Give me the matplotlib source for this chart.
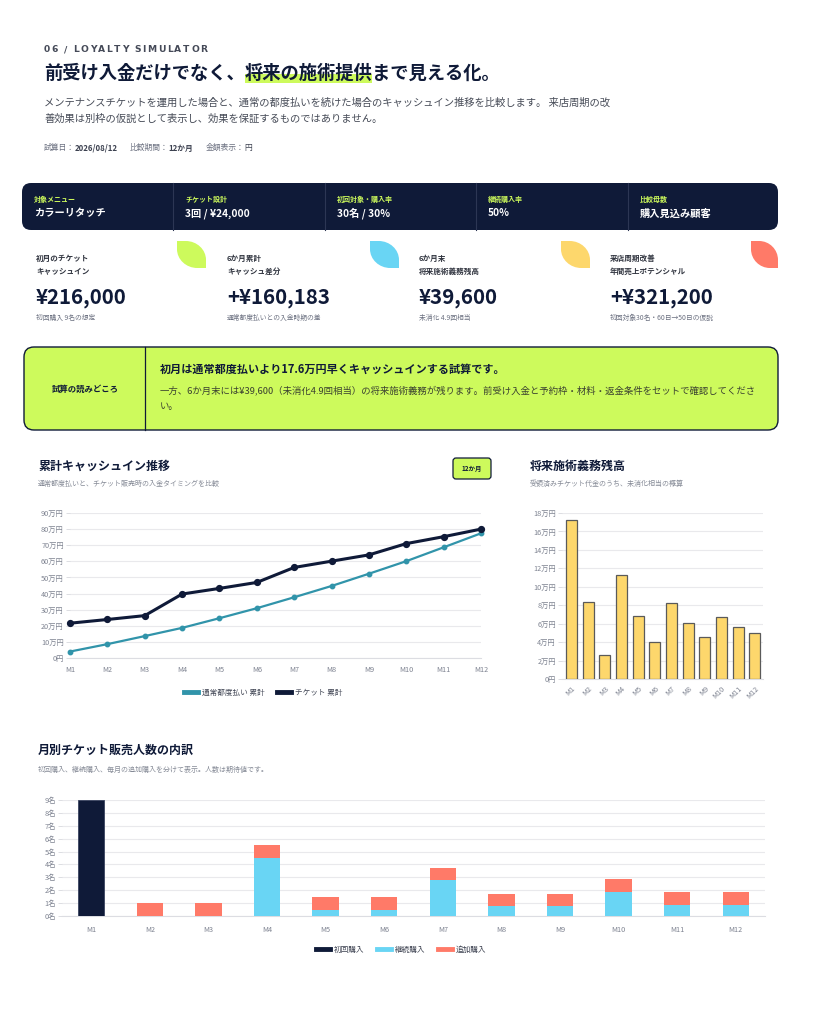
import matplotlib
matplotlib.use("Agg")
import matplotlib.pyplot as plt
from matplotlib.patches import FancyBboxPatch, PathPatch, Rectangle
from matplotlib.path import Path
from matplotlib.lines import Line2D
import numpy as np

plt.rcParams['font.family'] = ['Noto Sans CJK JP', 'DejaVu Sans']

# ---------------- data ----------------
months = ["M1", "M2", "M3", "M4", "M5", "M6", "M7", "M8", "M9", "M10", "M11", "M12"]
regular_cum = [4.0, 8.6, 13.6, 18.7, 24.7, 30.9, 37.7, 44.7, 52.3, 60.1, 68.7, 77.4]   # 万円
ticket_cum = [21.6, 23.9, 26.3, 39.7, 43.2, 46.9, 56.2, 60.1, 64.0, 71.0, 75.3, 80.0]  # 万円
liability = [17.2, 8.33, 2.57, 11.23, 6.81, 3.96, 8.26, 6.05, 4.56, 6.70, 5.65, 4.96]   # 万円
first_buy = [9, 0, 0, 0, 0, 0, 0, 0, 0, 0, 0, 0]
cont_buy = [0, 0, 0, 4.5, 0.5, 0.5, 2.8, 0.75, 0.75, 1.85, 0.85, 0.85]
add_buy = [0, 1.0, 1.0, 1.0, 0.97, 0.97, 0.95, 0.98, 0.98, 1.0, 1.0, 1.0]

line_yticks = [0, 10, 20, 30, 40, 50, 60, 70, 80, 90]
line_yticklabels = ["0円"] + [f"{v}万円" for v in line_yticks[1:]]
bar_yticks = [0, 2, 4, 6, 8, 10, 12, 14, 16, 18]
bar_yticklabels = ["0円"] + [f"{v}万円" for v in bar_yticks[1:]]
stack_yticks = list(range(10))
stack_yticklabels = [f"{v}名" for v in stack_yticks]

strip_labels = ["対象メニュー", "チケット設計", "初回対象・購入率", "継続購入率", "比較母数"]
strip_values = ["カラーリタッチ", "3回 / ¥24,000", "30名 / 30%", "50%", "購入見込み顧客"]

card_labels = [("初月のチケット", "キャッシュイン"), ("6か月累計", "キャッシュ差分"),
               ("6か月末", "将来施術義務残高"), ("来店周期改善", "年間売上ポテンシャル")]
card_values = ["¥216,000", "+¥160,183", "¥39,600", "+¥321,200"]
card_notes = ["初回購入 9名の想定", "通常都度払いとの入金時期の差", "未消化 4.9回相当", "初回対象30名・60日→50日の仮説"]

# ---------------- colors ----------------
NAVY = "#0f1a38"
LIME = "#cdfa5c"
SKY = "#69d5f4"
YELLOW = "#fdd76c"
SALMON = "#ff7a68"
TEAL = "#3194aa"
GRID = "#e9e9ec"
TICKC = "#7d8290"

W, H = 820, 1024
fig = plt.figure(figsize=(W / 100, H / 100), dpi=100)
fig.patch.set_facecolor("white")
bg = fig.add_axes([0, 0, 1, 1])
bg.set_xlim(0, W)
bg.set_ylim(H, 0)
bg.axis("off")
renderer = fig.canvas.get_renderer()


def pt(px):
    return px / (100 / 72)


def width_of(t):
    return t.get_window_extent(renderer).width


# ---------------- header ----------------
x = 44
for ch in "06 / LOYALTY SIMULATOR":
    if ch == " ":
        x += 4.0
        continue
    t = bg.text(x, 50, ch, fontsize=pt(9.2), color="#454a58", va="center", ha="left",
                family=["DejaVu Sans"], fontweight="bold")
    x += width_of(t) + 1.6

title_pre = "前受け入金だけでなく、"
title_hl = "将来の施術提供"
title_post = "まで見える化。"
tfs = pt(18.3)
t1 = bg.text(44, 73, title_pre, fontsize=tfs, fontweight="bold", color=NAVY, va="center", zorder=3)
w1 = width_of(t1)
t2 = bg.text(44 + w1, 73, title_hl, fontsize=tfs, fontweight="bold", color=NAVY, va="center", zorder=3)
w2 = width_of(t2)
bg.text(44 + w1 + w2, 73, title_post, fontsize=tfs, fontweight="bold", color=NAVY, va="center", zorder=3)
bg.add_patch(Rectangle((44 + w1, 74), w2, 9, color=LIME, zorder=2, lw=0))

desc_lines = ["メンテナンスチケットを運用した場合と、通常の都度払いを続けた場合のキャッシュイン推移を比較します。 来店周期の改",
              "善効果は別枠の仮説として表示し、効果を保証するものではありません。"]
bg.text(44, 103, desc_lines[0], fontsize=pt(10.3), color="#464b57", va="center")
bg.text(44, 119, desc_lines[1], fontsize=pt(10.3), color="#464b57", va="center")

meta = [("試算日：", "2026/08/12"), ("比較期間：", "12か月"), ("金額表示：", "円")]
mx = 44
for k, v in meta:
    a = bg.text(mx, 148, k, fontsize=pt(7.8), color="#6b7080", va="center")
    mx += width_of(a)
    b = bg.text(mx, 148, v, fontsize=pt(7.8), color="#3c4150", va="center",
                fontweight="bold" if v[0].isdigit() else "normal")
    mx += width_of(b) + 12

# ---------------- dark strip ----------------
bg.add_patch(FancyBboxPatch((22, 183), 756, 47, boxstyle="round,pad=0,rounding_size=9",
                            fc=NAVY, ec="none"))
col_x = [22, 173, 325, 476, 628]
for i, (lab, val) in enumerate(zip(strip_labels, strip_values)):
    cx = col_x[i]
    if i > 0:
        bg.plot([cx, cx], [183, 230], color="#2c3654", lw=0.8)
    bg.text(cx + 12, 199, lab, fontsize=pt(7), color=LIME, fontweight="bold", va="center")
    bg.text(cx + 12, 213.5, val, fontsize=pt(10.2), color="white", fontweight="bold", va="center")

# ---------------- KPI cards ----------------
card_x = [36, 227, 419, 610]
blob_x = [177, 370, 561, 751]
blob_colors = [LIME, SKY, YELLOW, SALMON]


def leaf(x0, y0, w, h, color):
    r = 0.7
    rx, ry = w * r, h * r
    k = 0.55
    verts = [(x0, y0), (x0 + w - rx, y0),
             (x0 + w - rx + rx * k, y0), (x0 + w, y0 + ry - ry * k), (x0 + w, y0 + ry),
             (x0 + w, y0 + h), (x0 + rx, y0 + h),
             (x0 + rx - rx * k, y0 + h), (x0, y0 + h - ry + ry * k), (x0, y0 + h - ry),
             (x0, y0)]
    codes = [Path.MOVETO, Path.LINETO, Path.CURVE4, Path.CURVE4, Path.CURVE4,
             Path.LINETO, Path.LINETO, Path.CURVE4, Path.CURVE4, Path.CURVE4, Path.CLOSEPOLY]
    bg.add_patch(PathPatch(Path(verts, codes), fc=color, ec="none"))


for i in range(4):
    cx = card_x[i]
    bw = 29 if i < 3 else 27
    leaf(blob_x[i], 241, bw, 27, blob_colors[i])
    bg.text(cx, 258, card_labels[i][0], fontsize=pt(7.6), color="#30343f", fontweight="bold", va="center")
    bg.text(cx, 271, card_labels[i][1], fontsize=pt(7.6), color="#30343f", fontweight="bold", va="center")
    bg.text(cx, 297, card_values[i], fontsize=pt(20.5), color=NAVY, fontweight="bold", va="center")
    bg.text(cx, 318, card_notes[i], fontsize=pt(6.8), color="#6b7080", va="center")

# ---------------- callout ----------------
bg.add_patch(FancyBboxPatch((24, 347), 754, 83, boxstyle="round,pad=0,rounding_size=10",
                            fc=LIME, ec=NAVY, lw=1.0))
bg.plot([145, 145], [347, 430], color=NAVY, lw=0.9)
bg.text(85, 389, "試算の読みどころ", fontsize=pt(8.4), color=NAVY, fontweight="bold", va="center", ha="center")
bg.text(160, 369, "初月は通常都度払いより17.6万円早くキャッシュインする試算です。", fontsize=pt(11.1),
        color=NAVY, fontweight="bold", va="center")
bg.text(160, 390, "一方、6か月末には¥39,600（未消化4.9回相当）の将来施術義務が残ります。前受け入金と予約枠・材料・返金条件をセットで確認してくださ",
        fontsize=pt(9.4), color="#3a4030", va="center")
bg.text(160, 406, "い。", fontsize=pt(9.4), color="#3a4030", va="center")

# ---------------- chart headers ----------------
bg.text(38, 466, "累計キャッシュイン推移", fontsize=pt(12), color=NAVY, fontweight="bold", va="center")
bg.text(38, 484, "通常都度払いと、チケット販売時の入金タイミングを比較", fontsize=pt(7), color="#858a96", va="center")
bg.add_patch(FancyBboxPatch((453, 458), 38, 21, boxstyle="round,pad=0,rounding_size=3",
                            fc=LIME, ec=NAVY, lw=0.9))
bg.text(472, 468.5, "12か月", fontsize=pt(6.4), color=NAVY, fontweight="bold", va="center", ha="center")

bg.text(530, 466, "将来施術義務残高", fontsize=pt(12), color=NAVY, fontweight="bold", va="center")
bg.text(530, 484, "受領済みチケット代金のうち、未消化相当の概算", fontsize=pt(7), color="#858a96", va="center")

bg.text(38, 750, "月別チケット販売人数の内訳", fontsize=pt(12), color=NAVY, fontweight="bold", va="center")
bg.text(38, 770, "初回購入、継続購入、毎月の追加購入を分けて表示。人数は期待値です。", fontsize=pt(7), color="#858a96", va="center")


def px_axes(l, t, r, b):
    return fig.add_axes([l / W, 1 - b / H, (r - l) / W, (b - t) / H])


def style(ax):
    for s in ["top", "right", "left"]:
        ax.spines[s].set_visible(False)
    ax.spines["bottom"].set_color("#dcdde2")
    ax.spines["bottom"].set_linewidth(0.8)
    ax.set_facecolor("none")
    ax.grid(axis="y", color=GRID, lw=0.8)
    ax.set_axisbelow(True)
    ax.tick_params(axis="y", labelsize=pt(7.3), labelcolor=TICKC, color="#dcdde2", length=3, width=0.7, pad=1.5)
    ax.tick_params(axis="x", labelsize=pt(7.3), labelcolor=TICKC, length=0)


# ---------------- line chart ----------------
ax1 = px_axes(70, 513, 481, 658)
style(ax1)
xi = np.arange(len(months))
ax1.plot(xi, regular_cum, color=TEAL, lw=1.6, marker="o", ms=3.2, clip_on=False, zorder=3)
ax1.plot(xi, ticket_cum, color=NAVY, lw=2.2, marker="o", ms=4.2, clip_on=False, zorder=4)
ax1.set_xlim(0, 11)
ax1.set_ylim(0, 90)
ax1.set_yticks(line_yticks)
ax1.set_yticklabels(line_yticklabels)
ax1.set_xticks(xi)
ax1.set_xticklabels(months)
ax1.tick_params(axis="x", pad=6)
handles = [Line2D([0], [0], color=TEAL, lw=3.5), Line2D([0], [0], color=NAVY, lw=3.5)]
fig.legend(handles, ["通常都度払い 累計", "チケット 累計"], loc="center",
           bbox_to_anchor=(263 / W, 1 - 693 / H), ncol=2, frameon=False,
           fontsize=pt(7.6), handlelength=1.9, handletextpad=0.5, columnspacing=1.6,
           labelcolor="#3c4150")

# ---------------- liability bar chart ----------------
ax2 = px_axes(562, 513, 763, 679)
style(ax2)
ax2.bar(xi, liability, width=0.66, color=YELLOW, edgecolor="#5a5a5a", linewidth=0.9, zorder=3)
ax2.set_xlim(-0.58, 11.5)
ax2.set_ylim(0, 18)
ax2.set_yticks(bar_yticks)
ax2.set_yticklabels(bar_yticklabels)
ax2.set_xticks(xi)
ax2.set_xticklabels(months, rotation=45, ha="right", rotation_mode="anchor")
ax2.tick_params(axis="x", pad=4)

# ---------------- stacked bar chart ----------------
ax3 = px_axes(62, 800, 765, 916)
style(ax3)
first_arr = np.array(first_buy, dtype=float)
cont_arr = np.array(cont_buy, dtype=float)
add_arr = np.array(add_buy, dtype=float)
ax3.bar(xi, first_arr, width=0.45, color=NAVY, edgecolor="#3a4460", linewidth=0.6, zorder=3)
ax3.bar(xi, cont_arr, width=0.45, bottom=first_arr, color=SKY, zorder=3)
ax3.bar(xi, add_arr, width=0.45, bottom=first_arr + cont_arr, color=SALMON, zorder=3)
ax3.set_xlim(-0.5, 11.5)
ax3.set_ylim(0, 9)
ax3.set_yticks(stack_yticks)
ax3.set_yticklabels(stack_yticklabels)
ax3.set_xticks(xi)
ax3.set_xticklabels(months)
ax3.tick_params(axis="x", pad=7)
handles3 = [Line2D([0], [0], color=NAVY, lw=3.5), Line2D([0], [0], color=SKY, lw=3.5),
            Line2D([0], [0], color=SALMON, lw=3.5)]
fig.legend(handles3, ["初回購入", "継続購入", "追加購入"], loc="center",
           bbox_to_anchor=(401 / W, 1 - 950 / H), ncol=3, frameon=False,
           fontsize=pt(7.6), handlelength=1.9, handletextpad=0.5, columnspacing=1.6,
           labelcolor="#3c4150")

fig.savefig("out.png", dpi=100, facecolor="white")
